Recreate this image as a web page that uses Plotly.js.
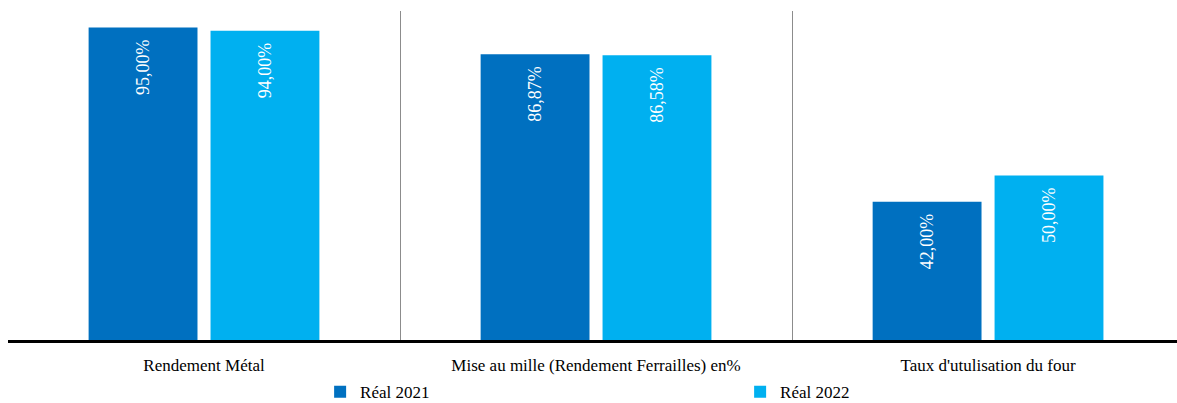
<!DOCTYPE html>
<html>
<head>
<meta charset="utf-8">
<script src="https://cdn.plot.ly/plotly-3.0.1.min.js"></script>
<style>html,body{margin:0;padding:0;background:#fff;}#chart{width:1177px;height:403px;}</style>
</head>
<body>
<div id="chart"></div>
<script>
const categories = ["Rendement Métal", "Mise au mille (Rendement Ferrailles) en%", "Taux d'utulisation du four"];
const seriesNames = ["Réal 2021", "Réal 2022"];
const real2021 = [95.00, 86.87, 42.00];
const real2022 = [94.00, 86.58, 50.00];
const colors = ["#0070C0", "#00B0F0"];

const serif = "Liberation Serif";
const traces = [real2021, real2022].map((vals, i) => ({
  type: "bar",
  name: seriesNames[i],
  x: categories,
  y: vals,
  marker: {color: colors[i]},
  texttemplate: "%{y:.2f}%\u00a0\u00a0",
  textposition: "inside",
  insidetextanchor: "end",
  textangle: -90,
  textfont: {family: serif, size: 18, color: "#ffffff"},
  hoverinfo: "skip"
}));

const layout = {
  width: 1177, height: 403,
  margin: {l: 8, r: 0, t: 11, b: 63, autoexpand: false},
  paper_bgcolor: "#ffffff", plot_bgcolor: "#ffffff",
  separators: ", ",
  barmode: "group",
  bargap: 0.378,
  bargroupgap: 0.107,
  showlegend: true,
  legend: {orientation: "h", x: 0.267, xanchor: "left", y: -0.104, yanchor: "top",
           entrywidth: 375, entrywidthmode: "pixels", tracegroupgap: 0,
           font: {family: serif, size: 17, color: "#000000"}, bgcolor: "rgba(0,0,0,0)"},
  xaxis: {
    type: "category",
    range: [-0.5, 2.482],
    autorange: false,
    tickson: "boundaries",
    showgrid: true, gridcolor: "#8c8c8c", gridwidth: 1,
    showline: true, linecolor: "#000000", linewidth: 3,
    ticks: "",
    ticklabelstandoff: 8,
    tickfont: {family: serif, size: 17, color: "#000000"},
    fixedrange: true
  },
  yaxis: {range: [0, 100], autorange: false, showgrid: false, zeroline: false, showticklabels: false, showline: false, fixedrange: true}
};

Plotly.newPlot("chart", traces, layout, {displayModeBar: false, staticPlot: true});
</script>
</body>
</html>
